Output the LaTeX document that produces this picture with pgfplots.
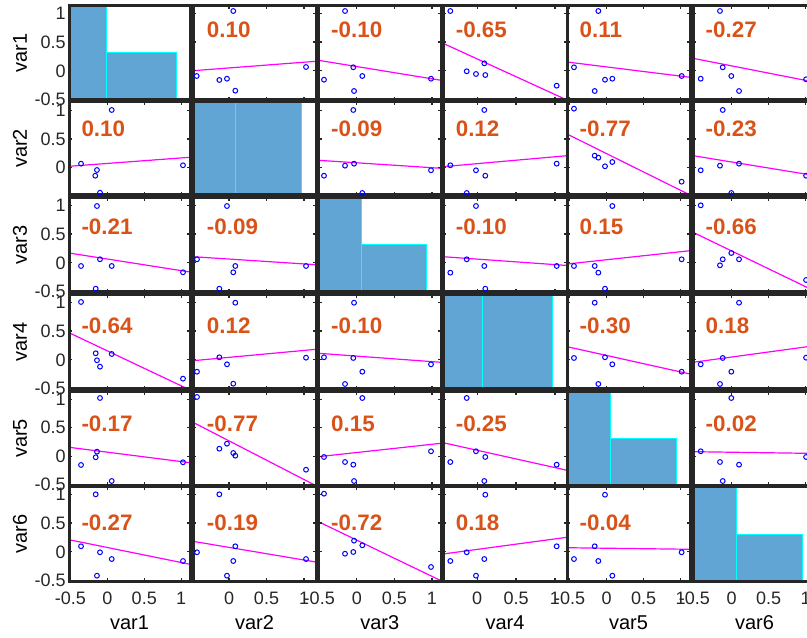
\documentclass[border=0pt]{standalone}
\usepackage{pgfplots}
\pgfplotsset{compat=1.18}
\usepackage{fontspec}
\setmainfont{Liberation Sans}
\definecolor{framec}{RGB}{38,38,38}
\definecolor{corrc}{RGB}{217,83,25}
\definecolor{histc}{RGB}{96,165,212}
\definecolor{magc}{RGB}{255,0,255}
\definecolor{bluec}{RGB}{0,0,255}
\definecolor{cyanc}{RGB}{0,255,255}
\pgfplotsset{
  panel/.style={scale only axis, anchor=south west, axis on top,
    axis line style={line width=1.5pt, color=framec},
    tick align=inside, xtick={-0.5,0,0.5,1}, ytick={-0.5,0,0.5,1},
    major tick length=1.5pt, tick style={line width=0.6pt, color=framec},
    xticklabel={\hbox{}}, yticklabel={\hbox{}},
    ticklabel style={font=\fontsize{9}{10}\selectfont, text=framec},
    xticklabel style={inner sep=0pt, yshift=-5.5pt},
    yticklabel style={inner sep=0pt, xshift=-1.5pt},
    label style={font=\fontsize{10}{12}\selectfont, text=framec},
    every axis x label/.style={at={(rel axis cs:0.5,0)}, anchor=center, yshift=-21pt},
    every axis y label/.style={at={(rel axis cs:-0.405,0.5)}, anchor=center, rotate=90},
  },
  bottom/.style={xticklabel={\pgfmathprintnumber[assume math mode=true]{\tick}}},
  left/.style={yticklabel={\pgfmathprintnumber[assume math mode=true]{\tick}}},
  hist/.style={major tick length=0pt},
  c1/.style={xmin=-0.52, xmax=1.12, width=60.5pt},
  c2/.style={xmin=-0.48, xmax=1.16, width=61.5pt},
  c3/.style={xmin=-0.51, xmax=1.12, width=61.25pt},
  c4/.style={xmin=-0.44, xmax=1.155, width=62pt},
  c5/.style={xmin=-0.536, xmax=1.125, width=61.5pt},
  c6/.style={xmin=-0.52, xmax=1.14, width=61.5pt},
  r1/.style={ymin=-0.505, ymax=1.125, height=47pt},
  r2/.style={ymin=-0.48, ymax=1.15, height=46.5pt},
  r3/.style={ymin=-0.505, ymax=1.125, height=47pt},
  r4/.style={ymin=-0.505, ymax=1.125, height=47pt},
  r5/.style={ymin=-0.505, ymax=1.125, height=46.5pt},
  r6/.style={ymin=-0.505, ymax=1.125, height=47pt},
  pts/.style={only marks, mark=o, mark size=1.2pt, color=bluec, mark options={line width=0.5pt}},
  fit/.style={color=magc, line width=0.6pt},
  bar/.style={fill=histc, draw=cyanc, line width=0.5pt},
}
\tikzset{corr/.style={anchor=west, inner sep=0pt, font=\fontsize{11.2}{13}\selectfont\bfseries, text=corrc}}
\begin{document}
\begin{tikzpicture}
\useasboundingbox (0,0) rectangle (403.5pt,318.5pt);
\clip (0,0) rectangle (403.5pt,318.5pt);
% ---------------- Row 1 ----------------
\begin{axis}[panel, hist, left, c1, r1, at={(34.5pt,268.5pt)}, ylabel={var1}]
\addplot[bar] coordinates {(-0.52,-0.505) (-0.52,1.125) (-0.0056,1.125) (-0.0056,-0.505) (-0.52,-0.505)};
\addplot[bar] coordinates {(-0.0056,-0.505) (-0.0056,0.31) (0.939,0.31) (0.939,-0.505) (-0.0056,-0.505)};
\end{axis}
\begin{axis}[panel, c2, r1, at={(96.5pt,268.5pt)}]
\addplot[pts] coordinates {(-0.431,-0.089) (-0.129,-0.158) (-0.027,-0.136) (0.084,-0.344) (0.057,1.038) (1.027,0.067)};
\addplot[fit] coordinates {(-0.48,0.003) (1.16,0.166)};
\node[corr] at (rel axis cs:0.11,0.752) {0.10};
\end{axis}
\begin{axis}[panel, c3, r1, at={(159.25pt,268.5pt)}]
\addplot[pts] coordinates {(-0.437,-0.153) (-0.047,0.062) (0.073,-0.089) (-0.037,-0.349) (-0.157,1.038) (0.987,-0.136)};
\addplot[fit] coordinates {(-0.51,0.183) (1.12,-0.163)};
\node[corr] at (rel axis cs:0.1,0.752) {-0.10};
\end{axis}
\begin{axis}[panel, c4, r1, at={(221.5pt,268.5pt)}]
\addplot[pts] coordinates {(-0.346,1.038) (-0.135,-0.007) (-0.016,-0.054) (0.104,-0.072) (0.091,0.131) (1.022,-0.257)};
\addplot[fit] coordinates {(-0.44,0.478) (1.155,-0.505)};
\node[corr] at (rel axis cs:0.1,0.752) {-0.65};
\end{axis}
\begin{axis}[panel, c5, r1, at={(283.5pt,268.5pt)}]
\addplot[pts] coordinates {(-0.442,0.062) (-0.113,1.038) (-0.023,-0.153) (0.076,-0.136) (-0.162,-0.349) (1.012,-0.089)};
\addplot[fit] coordinates {(-0.536,0.154) (1.125,-0.111)};
\node[corr] at (rel axis cs:0.1,0.752) {0.11};
\end{axis}
\begin{axis}[panel, c6, r1, at={(346.5pt,268.5pt)}]
\addplot[pts] coordinates {(-0.416,-0.136) (-0.156,1.038) (-0.119,0.062) (-0.003,-0.089) (0.101,-0.349) (1.006,-0.146)};
\addplot[fit] coordinates {(-0.52,0.218) (1.14,-0.20)};
\node[corr] at (rel axis cs:0.1,0.752) {-0.27};
\end{axis}
% ---------------- Row 2 ----------------
\begin{axis}[panel, left, c1, r2, at={(34.5pt,221pt)}, ylabel={var2}]
\addplot[pts] coordinates {(-0.357,0.069) (-0.141,-0.042) (-0.164,-0.142) (-0.100,-0.440) (0.059,1.010) (1.025,0.041)};
\addplot[fit] coordinates {(-0.52,0.023) (1.12,0.181)};
\node[corr] at (rel axis cs:0.1,0.717) {0.10};
\end{axis}
\begin{axis}[panel, hist, c2, r2, at={(96.5pt,221pt)}]
\addplot[bar] coordinates {(-0.48,-0.48) (-0.48,1.15) (0.089,1.15) (0.089,-0.48) (-0.48,-0.48)};
\addplot[bar] coordinates {(0.089,-0.48) (0.089,1.15) (0.969,1.15) (0.969,-0.48) (0.089,-0.48)};
\end{axis}
\begin{axis}[panel, c3, r2, at={(159.25pt,221pt)}]
\addplot[pts] coordinates {(-0.437,-0.142) (-0.157,0.034) (-0.037,0.069) (-0.047,1.010) (0.073,-0.445) (0.987,-0.047)};
\addplot[fit] coordinates {(-0.51,0.128) (1.12,-0.012)};
\node[corr] at (rel axis cs:0.1,0.717) {-0.09};
\end{axis}
\begin{axis}[panel, c4, r2, at={(221.5pt,221pt)}]
\addplot[pts] coordinates {(-0.346,0.041) (-0.135,-0.445) (-0.016,-0.047) (0.104,-0.142) (0.091,1.010) (1.022,0.069)};
\addplot[fit] coordinates {(-0.44,0.016) (1.155,0.209)};
\node[corr] at (rel axis cs:0.1,0.717) {0.12};
\end{axis}
\begin{axis}[panel, c5, r2, at={(283.5pt,221pt)}]
\addplot[pts] coordinates {(-0.442,1.033) (-0.162,0.209) (-0.113,0.174) (-0.023,0.023) (0.076,0.098) (1.012,-0.247)};
\addplot[fit] coordinates {(-0.536,0.589) (1.125,-0.48)};
\node[corr] at (rel axis cs:0.1,0.717) {-0.77};
\end{axis}
\begin{axis}[panel, c6, r2, at={(346.5pt,221pt)}]
\addplot[pts] coordinates {(-0.416,-0.047) (-0.156,0.034) (-0.119,1.010) (-0.003,-0.445) (0.101,0.069) (1.006,-0.142)};
\addplot[fit] coordinates {(-0.52,0.209) (1.14,-0.143)};
\node[corr] at (rel axis cs:0.1,0.717) {-0.23};
\end{axis}
% ---------------- Row 3 ----------------
\begin{axis}[panel, left, c1, r3, at={(34.5pt,172.5pt)}, ylabel={var3}]
\addplot[pts] coordinates {(-0.357,-0.054) (-0.141,0.986) (-0.158,-0.448) (-0.100,0.062) (0.059,-0.054) (1.025,-0.163)};
\addplot[fit] coordinates {(-0.52,0.171) (1.12,-0.158)};
\node[corr] at (rel axis cs:0.1,0.695) {-0.21};
\end{axis}
\begin{axis}[panel, c2, r3, at={(96.5pt,172.5pt)}]
\addplot[pts] coordinates {(-0.427,0.062) (-0.129,-0.448) (-0.027,0.986) (0.057,-0.163) (0.084,-0.054) (1.027,-0.054)};
\addplot[fit] coordinates {(-0.48,0.107) (1.16,-0.032)};
\node[corr] at (rel axis cs:0.11,0.695) {-0.09};
\end{axis}
\begin{axis}[panel, hist, c3, r3, at={(159.25pt,172.5pt)}]
\addplot[bar] coordinates {(-0.51,-0.505) (-0.51,1.125) (0.056,1.125) (0.056,-0.505) (-0.51,-0.505)};
\addplot[bar] coordinates {(0.056,-0.505) (0.056,0.31) (0.930,0.31) (0.930,-0.505) (0.056,-0.505)};
\end{axis}
\begin{axis}[panel, c4, r3, at={(221.5pt,172.5pt)}]
\addplot[pts] coordinates {(-0.346,-0.170) (-0.135,0.062) (-0.016,0.986) (0.091,-0.054) (0.104,-0.448) (1.022,-0.054)};
\addplot[fit] coordinates {(-0.44,0.107) (1.155,-0.045)};
\node[corr] at (rel axis cs:0.1,0.695) {-0.10};
\end{axis}
\begin{axis}[panel, c5, r3, at={(283.5pt,172.5pt)}]
\addplot[pts] coordinates {(-0.442,-0.054) (-0.162,-0.054) (-0.113,-0.170) (-0.023,-0.448) (0.076,0.986) (1.012,0.062)};
\addplot[fit] coordinates {(-0.536,-0.020) (1.125,0.211)};
\node[corr] at (rel axis cs:0.1,0.695) {0.15};
\end{axis}
\begin{axis}[panel, c6, r3, at={(346.5pt,172.5pt)}]
\addplot[pts] coordinates {(-0.416,0.998) (-0.156,-0.042) (-0.119,0.062) (-0.003,0.171) (0.101,0.062) (1.006,-0.297)};
\addplot[fit] coordinates {(-0.52,0.530) (1.14,-0.50)};
\node[corr] at (rel axis cs:0.1,0.695) {-0.66};
\end{axis}
% ---------------- Row 4 ----------------
\begin{axis}[panel, left, c1, r4, at={(34.5pt,124pt)}, ylabel={var4}]
\addplot[pts] coordinates {(-0.357,1.004) (-0.158,0.114) (-0.141,-0.007) (-0.100,-0.118) (0.059,0.102) (1.025,-0.326)};
\addplot[fit] coordinates {(-0.52,0.471) (1.12,-0.522)};
\node[corr] at (rel axis cs:0.1,0.672) {-0.64};
\end{axis}
\begin{axis}[panel, c2, r4, at={(96.5pt,124pt)}]
\addplot[pts] coordinates {(-0.427,-0.205) (-0.129,0.045) (-0.027,-0.077) (0.057,-0.413) (0.084,0.991) (1.027,0.038)};
\addplot[fit] coordinates {(-0.48,-0.014) (1.16,0.183)};
\node[corr] at (rel axis cs:0.11,0.672) {0.12};
\end{axis}
\begin{axis}[panel, c3, r4, at={(159.25pt,124pt)}]
\addplot[pts] coordinates {(-0.437,0.045) (-0.157,-0.418) (-0.047,0.033) (-0.037,0.991) (0.073,-0.205) (0.987,-0.077)};
\addplot[fit] coordinates {(-0.51,0.114) (1.12,-0.042)};
\node[corr] at (rel axis cs:0.1,0.672) {-0.10};
\end{axis}
\begin{axis}[panel, hist, c4, r4, at={(221.5pt,124pt)}]
\addplot[bar] coordinates {(-0.42,-0.505) (-0.42,1.125) (0.071,1.125) (0.071,-0.505) (-0.42,-0.505)};
\addplot[bar] coordinates {(0.071,-0.505) (0.071,1.125) (0.966,1.125) (0.966,-0.505) (0.071,-0.505)};
\end{axis}
\begin{axis}[panel, c5, r4, at={(283.5pt,124pt)}]
\addplot[pts] coordinates {(-0.442,0.033) (-0.162,0.991) (-0.113,-0.418) (-0.023,0.045) (0.076,-0.077) (1.012,-0.205)};
\addplot[fit] coordinates {(-0.536,0.229) (1.125,-0.245)};
\node[corr] at (rel axis cs:0.1,0.672) {-0.30};
\end{axis}
\begin{axis}[panel, c6, r4, at={(346.5pt,124pt)}]
\addplot[pts] coordinates {(-0.416,-0.077) (-0.156,-0.418) (-0.119,0.033) (-0.003,-0.205) (0.101,0.991) (1.006,0.038)};
\addplot[fit] coordinates {(-0.52,-0.042) (1.14,0.249)};
\node[corr] at (rel axis cs:0.1,0.672) {0.18};
\end{axis}
% ---------------- Row 5 ----------------
\begin{axis}[panel, left, c1, r5, at={(34.5pt,76pt)}, ylabel={var5}]
\addplot[pts] coordinates {(-0.357,-0.154) (-0.158,-0.019) (-0.141,0.079) (-0.100,1.020) (0.059,-0.435) (1.025,-0.107)};
\addplot[fit] coordinates {(-0.52,0.156) (1.12,-0.114)};
\node[corr] at (rel axis cs:0.1,0.654) {-0.17};
\end{axis}
\begin{axis}[panel, c2, r5, at={(96.5pt,76pt)}]
\addplot[pts] coordinates {(-0.427,1.038) (-0.129,0.131) (-0.027,0.219) (0.057,0.056) (0.084,0.009) (1.027,-0.237)};
\addplot[fit] coordinates {(-0.48,0.594) (1.16,-0.517)};
\node[corr] at (rel axis cs:0.11,0.654) {-0.77};
\end{axis}
\begin{axis}[panel, c3, r5, at={(159.25pt,76pt)}]
\addplot[pts] coordinates {(-0.437,-0.014) (-0.157,-0.102) (-0.047,-0.149) (-0.037,-0.435) (0.073,1.020) (0.987,0.086)};
\addplot[fit] coordinates {(-0.51,-0.009) (1.12,0.226)};
\node[corr] at (rel axis cs:0.1,0.654) {0.15};
\end{axis}
\begin{axis}[panel, c4, r5, at={(221.5pt,76pt)}]
\addplot[pts] coordinates {(-0.346,-0.102) (-0.135,1.020) (-0.016,0.086) (0.091,-0.435) (0.104,-0.014) (1.022,-0.149)};
\addplot[fit] coordinates {(-0.44,0.237) (1.155,-0.247)};
\node[corr] at (rel axis cs:0.1,0.654) {-0.25};
\end{axis}
\begin{axis}[panel, hist, c5, r5, at={(283.5pt,76pt)}]
\addplot[bar] coordinates {(-0.536,-0.505) (-0.536,1.125) (0.045,1.125) (0.045,-0.505) (-0.536,-0.505)};
\addplot[bar] coordinates {(0.045,-0.505) (0.045,0.31) (0.945,0.31) (0.945,-0.505) (0.045,-0.505)};
\end{axis}
\begin{axis}[panel, c6, r5, at={(346.5pt,76pt)}]
\addplot[pts] coordinates {(-0.416,0.086) (-0.156,-0.102) (-0.119,-0.435) (-0.003,1.020) (0.101,-0.149) (1.006,-0.014)};
\addplot[fit] coordinates {(-0.52,0.079) (1.14,0.048)};
\node[corr] at (rel axis cs:0.1,0.654) {-0.02};
\end{axis}
% ---------------- Row 6 ----------------
\begin{axis}[panel, left, bottom, c1, r6, at={(34.5pt,28pt)}, ylabel={var6}, xlabel={var1}]
\addplot[pts] coordinates {(-0.357,0.097) (-0.158,0.998) (-0.141,-0.413) (-0.100,-0.007) (0.059,-0.124) (1.025,-0.158)};
\addplot[fit] coordinates {(-0.52,0.211) (1.12,-0.215)};
\node[corr] at (rel axis cs:0.1,0.622) {-0.27};
\end{axis}
\begin{axis}[panel, bottom, c2, r6, at={(96.5pt,28pt)}, xlabel={var2}]
\addplot[pts] coordinates {(-0.427,-0.007) (-0.129,0.998) (-0.027,-0.413) (0.057,-0.158) (0.084,0.097) (1.027,-0.124)};
\addplot[fit] coordinates {(-0.48,0.183) (1.16,-0.176)};
\node[corr] at (rel axis cs:0.11,0.622) {-0.19};
\end{axis}
\begin{axis}[panel, bottom, c3, r6, at={(159.25pt,28pt)}, xlabel={var3}]
\addplot[pts] coordinates {(-0.437,1.009) (-0.157,-0.032) (-0.047,-0.002) (-0.037,0.194) (0.073,0.114) (0.987,-0.262)};
\addplot[fit] coordinates {(-0.51,0.523) (1.12,-0.500)};
\node[corr] at (rel axis cs:0.1,0.622) {-0.72};
\end{axis}
\begin{axis}[panel, bottom, c4, r6, at={(221.5pt,28pt)}, xlabel={var4}]
\addplot[pts] coordinates {(-0.346,-0.158) (-0.135,-0.007) (-0.016,-0.413) (0.091,-0.124) (0.104,0.991) (1.022,0.097)};
\addplot[fit] coordinates {(-0.44,-0.037) (1.155,0.253)};
\node[corr] at (rel axis cs:0.1,0.622) {0.18};
\end{axis}
\begin{axis}[panel, bottom, c5, r6, at={(283.5pt,28pt)}, xlabel={var5}]
\addplot[pts] coordinates {(-0.442,-0.124) (-0.162,0.097) (-0.113,-0.158) (-0.023,0.991) (0.076,-0.413) (1.012,-0.007)};
\addplot[fit] coordinates {(-0.536,0.072) (1.125,0.045)};
\node[corr] at (rel axis cs:0.1,0.622) {-0.04};
\end{axis}
\begin{axis}[panel, hist, bottom, c6, r6, at={(346.5pt,28pt)}, xlabel={var6}]
\addplot[bar] coordinates {(-0.52,-0.505) (-0.52,1.125) (0.061,1.125) (0.061,-0.505) (-0.52,-0.505)};
\addplot[bar] coordinates {(0.061,-0.505) (0.061,0.31) (0.956,0.31) (0.956,-0.505) (0.061,-0.505)};
\end{axis}
\end{tikzpicture}
\end{document}
